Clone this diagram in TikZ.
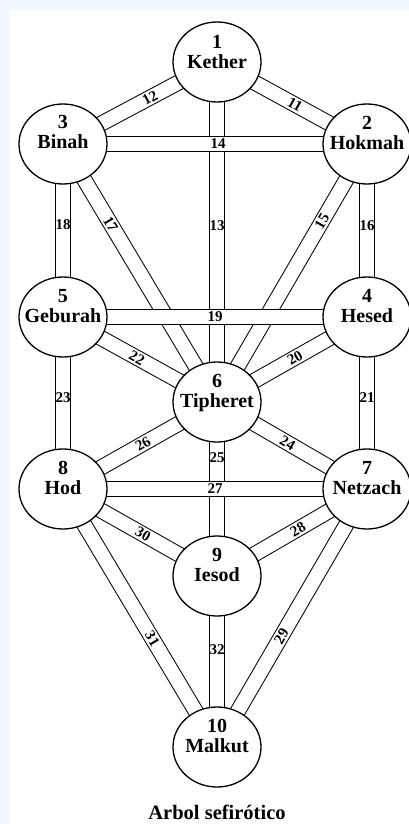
\documentclass[tikz,border=0pt]{standalone}
\usepackage{fontspec}
\setmainfont{Liberation Serif}
\usetikzlibrary{shapes.geometric,calc}
\pgfdeclarelayer{bg}
\pgfdeclarelayer{paths}
\pgfsetlayers{bg,paths,main}
\definecolor{bgblue}{RGB}{240,247,253}
\begin{document}
\begin{tikzpicture}[x=1pt,y=-1pt,
  sefira/.style={ellipse, draw, line width=1.3pt, fill=white, minimum width=88pt, minimum height=80pt, inner sep=0pt},
  sname/.style={align=center, font=\bfseries\fontsize{20}{20}\selectfont, inner sep=0pt},
  channel/.style={line width=1pt, double=white, double distance=14pt},
  plabel/.style={font=\bfseries\fontsize{15}{15}\selectfont, inner sep=0pt},
  titlestyle/.style={font=\bfseries\fontsize{20.5}{20.5}\selectfont, inner sep=0pt, anchor=base}
]
\useasboundingbox (0,0) rectangle (409,824);
\begin{pgfonlayer}{bg}
\fill[bgblue] (0,0) rectangle (409,824);
\fill[white] (10,10) rectangle (409,824);
\end{pgfonlayer}

% sefirot
\node[sefira] (K) at (217,62) {};
\node[sefira] (H) at (367,144) {};
\node[sefira] (B) at (63,144) {};
\node[sefira] (He) at (367,317) {};
\node[sefira] (G) at (63,317) {};
\node[sefira] (T) at (217,402) {};
\node[sefira] (N) at (367,489) {};
\node[sefira] (Ho) at (63,489) {};
\node[sefira] (I) at (217,576) {};
\node[sefira] (M) at (217,747) {};

\node[sname] (Kt) at ($(K)+(0,-10)$) {1\\Kether};
\node[sname] (Ht) at ($(H)+(0,-11)$) {2\\Hokmah};
\node[sname] (Bt) at ($(B)+(0,-12)$) {3\\Binah};
\node[sname] (Het) at ($(He)+(0,-11)$) {4\\Hesed};
\node[sname] (Gt) at ($(G)+(0,-11)$) {5\\Geburah};
\node[sname] (Tt) at ($(T)+(0,-9)$) {6\\Tipheret};
\node[sname] (Nt) at ($(N)+(0,-11)$) {7\\Netzach};
\node[sname] (Hot) at ($(Ho)+(0,-11)$) {8\\Hod};
\node[sname] (It) at ($(I)+(0,-11)$) {9\\Iesod};
\node[sname] (Mt) at ($(M)+(0,-11)$) {10\\Malkut};

% paths
\begin{pgfonlayer}{paths}
\draw[channel] (K.center) -- (B.center) node[plabel, sloped, pos=0.435] (l12) {12};
\draw[channel] (K.center) -- (H.center) node[plabel, sloped, pos=0.52] (l11) {11};
\draw[channel] (K.center) -- (T.center) node[plabel, pos=0.48] (l13) {13};
\draw[channel] (B.center) -- (G.center) node[plabel, pos=0.465] (l18) {18};
\draw[channel] (H.center) -- (He.center) node[plabel, pos=0.47] (l16) {16};
\draw[channel] (B.center) -- (T.center) node[plabel, sloped, pos=0.31] (l17) {17};
\draw[channel] (H.center) -- (T.center) node[plabel, sloped, pos=0.30] (l15) {15};
\draw[channel] (G.center) -- (T.center) node[plabel, sloped, pos=0.48] (l22) {22};
\draw[channel] (He.center) -- (T.center) node[plabel, sloped, pos=0.48] (l20) {20};
\draw[channel] (G.center) -- (Ho.center) node[plabel, pos=0.47] (l23) {23};
\draw[channel] (He.center) -- (N.center) node[plabel, pos=0.47] (l21) {21};
\draw[channel] (T.center) -- (Ho.center) node[plabel, sloped, pos=0.48] (l26) {26};
\draw[channel] (T.center) -- (N.center) node[plabel, sloped, pos=0.47] (l24) {24};
\draw[channel] (T.center) -- (I.center) node[plabel, pos=0.32] (l25) {25};
\draw[channel] (Ho.center) -- (I.center) node[plabel, sloped, pos=0.52] (l30) {30};
\draw[channel] (N.center) -- (I.center) node[plabel, sloped, pos=0.46] (l28) {28};
\draw[channel] (Ho.center) -- (M.center) node[plabel, sloped, pos=0.58] (l31) {31};
\draw[channel] (I.center) -- (M.center) node[plabel, pos=0.43] (l32) {32};
\draw[channel] (N.center) -- (M.center) node[plabel, sloped, pos=0.57] (l29) {29};
\draw[channel] (B.center) -- (H.center) node[plabel, pos=0.51] (l14) {14};
\draw[channel] (G.center) -- (He.center) node[plabel, pos=0.5] (l19) {19};
\draw[channel] (Ho.center) -- (N.center) node[plabel, pos=0.5] (l27) {27};
\end{pgfonlayer}

\node[titlestyle] (title) at (217,819) {Arbol sefirótico};
\end{tikzpicture}
\end{document}
